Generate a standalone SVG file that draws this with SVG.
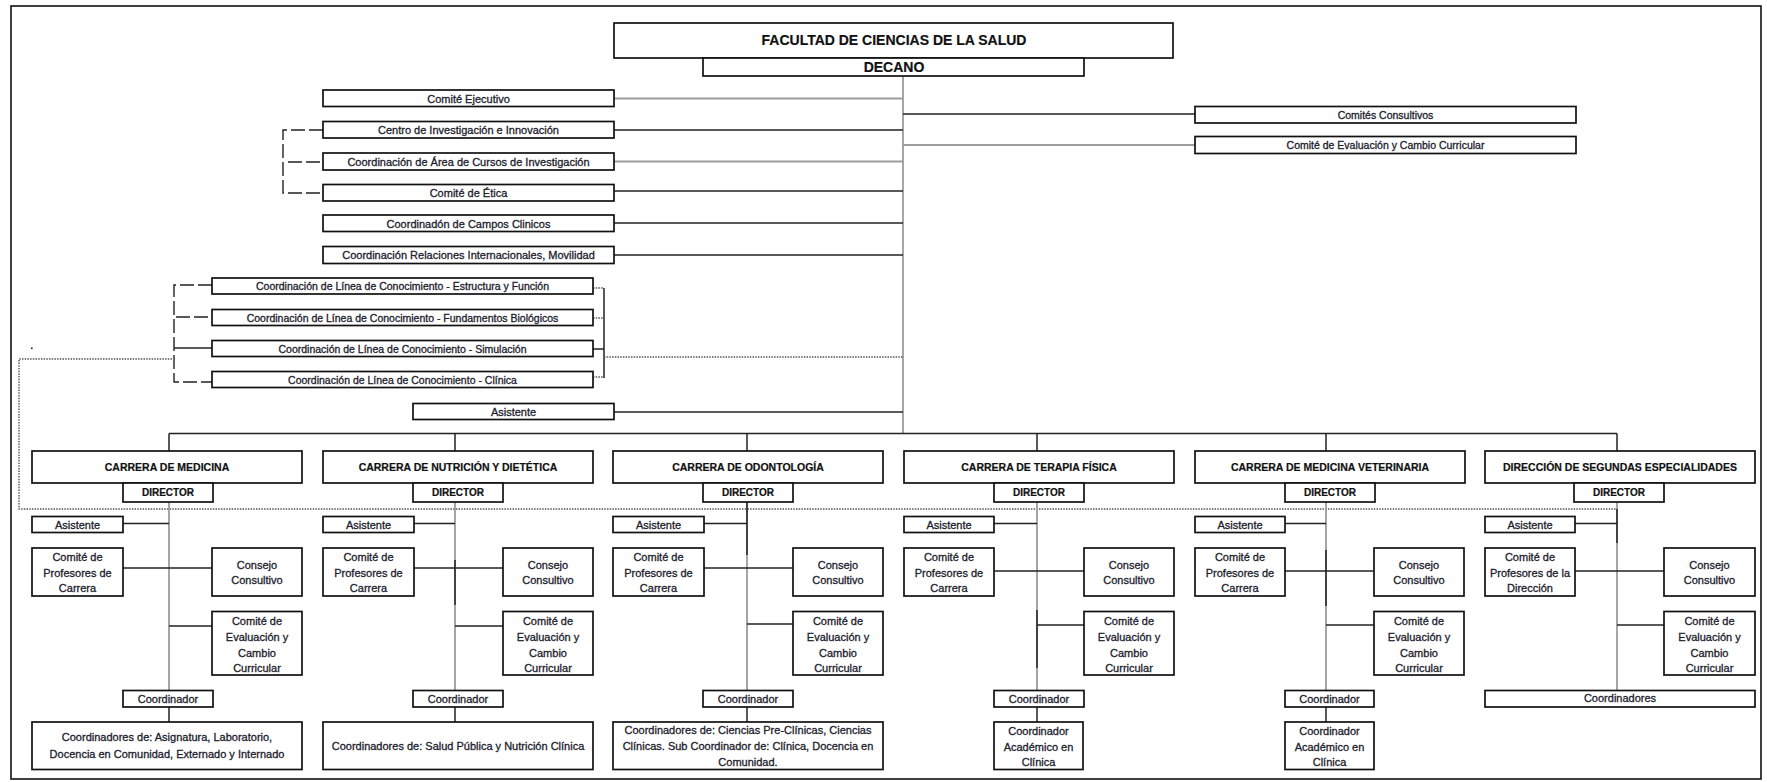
<svg xmlns="http://www.w3.org/2000/svg" width="1767" height="782" viewBox="0 0 1767 782">
<defs>
<style>
.bg{fill:#fff}
.frame{fill:none;stroke:#111;stroke-width:1.6}
.box{fill:#fff;stroke:#111;stroke-width:1.7}
.t{font-family:"Liberation Sans",Arial,sans-serif;font-size:11px;fill:#1c1c2c;stroke:#1c1c2c;stroke-width:0.3;text-anchor:middle;dominant-baseline:central}
.s{font-size:10.5px}
.b{font-weight:bold;fill:#111;stroke:#111;stroke-width:0.2}
.h1{font-size:14px}
.h2{font-size:10.5px}
.h3{font-size:10px}
.k{fill:none;stroke:#222;stroke-width:1.5}
.g{fill:none;stroke:#9c9c9c;stroke-width:1.8}
.dash{fill:none;stroke:#222;stroke-width:1.4;stroke-dasharray:14 4}
.dot{fill:none;stroke:#555;stroke-width:1.4;stroke-dasharray:1.5 1.2}
</style>
</defs>
<rect class="bg" x="0" y="0" width="1767" height="782"/>
<rect class="frame" x="11" y="6" width="1750" height="773"/>
<rect x="31" y="347.5" width="1.6" height="1.6" fill="#222"/>

<g id="connectors">
  <line class="g" x1="903" y1="76" x2="903" y2="434"/>
  <line class="g" x1="614" y1="98.5" x2="903" y2="98.5"/>
  <line class="k" x1="614" y1="130" x2="903" y2="130"/>
  <line class="g" x1="614" y1="161.5" x2="903" y2="161.5"/>
  <line class="k" x1="614" y1="191" x2="903" y2="191"/>
  <line class="k" x1="614" y1="223" x2="903" y2="223"/>
  <line class="k" x1="614" y1="255" x2="903" y2="255"/>
  <line class="k" x1="614" y1="412" x2="903" y2="412"/>
  <line class="k" x1="903" y1="114" x2="1195" y2="114"/>
  <line class="g" x1="903" y1="145" x2="1195" y2="145"/>
  <polyline class="dash" points="323,130 283,130 283,193 323,193"/>
  <line class="dash" x1="288" y1="162" x2="323" y2="162"/>
  <polyline class="dash" points="212,285 174,285 174,382 212,382"/>
  <line class="dash" x1="176" y1="317" x2="212" y2="317"/>
  <line class="k" x1="174" y1="348" x2="212" y2="348"/>
  <line class="k" x1="604" y1="288" x2="604" y2="378"/>
  <line class="dot" x1="593" y1="288" x2="604" y2="288"/>
  <line class="dot" x1="593" y1="318" x2="604" y2="318"/>
  <line class="k" x1="593" y1="349" x2="604" y2="349"/>
  <line class="dot" x1="593" y1="377" x2="604" y2="377"/>
  <line class="dot" x1="604" y1="357" x2="903" y2="357"/>
  <polyline class="dot" points="172,359 19,359 19,509 1617,509"/>
  <line class="k" x1="169" y1="433.5" x2="1617" y2="433.5"/>
  <line class="k" x1="169" y1="433.5" x2="169" y2="451"/>
  <line class="k" x1="455" y1="433.5" x2="455" y2="451"/>
  <line class="k" x1="747" y1="433.5" x2="747" y2="451"/>
  <line class="k" x1="1037" y1="433.5" x2="1037" y2="451"/>
  <line class="k" x1="1326" y1="433.5" x2="1326" y2="451"/>
  <line class="k" x1="1617" y1="433.5" x2="1617" y2="451"/>
  <line class="g" x1="169" y1="502" x2="169" y2="690"/>
  <line class="k" x1="123" y1="523.5" x2="169" y2="523.5"/>
  <line class="k" x1="123" y1="568" x2="212" y2="568"/>
  <line class="k" x1="169" y1="626" x2="212" y2="626"/>
  <line class="k" x1="169" y1="707" x2="169" y2="722"/>
  <line class="g" x1="455" y1="502" x2="455" y2="690"/>
  <line class="k" x1="455" y1="560" x2="455" y2="605"/>
  <line class="k" x1="414" y1="523.5" x2="455" y2="523.5"/>
  <line class="k" x1="414" y1="568" x2="503" y2="568"/>
  <line class="k" x1="455" y1="626" x2="503" y2="626"/>
  <line class="k" x1="455" y1="707" x2="455" y2="722"/>
  <line class="g" x1="747" y1="502" x2="747" y2="690"/>
  <line class="k" x1="747" y1="502" x2="747" y2="555"/>
  <line class="k" x1="704" y1="523.5" x2="747" y2="523.5"/>
  <line class="k" x1="704" y1="568" x2="793" y2="568"/>
  <line class="k" x1="747" y1="624" x2="793" y2="624"/>
  <line class="k" x1="747" y1="707" x2="747" y2="722"/>
  <line class="g" x1="1037" y1="502" x2="1037" y2="690"/>
  <line class="k" x1="1037" y1="610" x2="1037" y2="668"/>
  <line class="k" x1="994" y1="523.5" x2="1037" y2="523.5"/>
  <line class="k" x1="994" y1="571" x2="1084" y2="571"/>
  <line class="k" x1="1037" y1="625" x2="1084" y2="625"/>
  <line class="k" x1="1037" y1="707" x2="1037" y2="722"/>
  <line class="g" x1="1326" y1="502" x2="1326" y2="690"/>
  <line class="k" x1="1326" y1="550" x2="1326" y2="606"/>
  <line class="k" x1="1285" y1="523.5" x2="1326" y2="523.5"/>
  <line class="k" x1="1285" y1="571" x2="1374" y2="571"/>
  <line class="k" x1="1326" y1="625" x2="1374" y2="625"/>
  <line class="k" x1="1326" y1="707" x2="1326" y2="722"/>
  <line class="g" x1="1617" y1="502" x2="1617" y2="690"/>
  <line class="k" x1="1617" y1="509" x2="1617" y2="543"/>
  <line class="k" x1="1575" y1="523.5" x2="1617" y2="523.5"/>
  <line class="k" x1="1575" y1="571" x2="1664" y2="571"/>
  <line class="k" x1="1617" y1="625" x2="1664" y2="625"/>
</g>

<g id="facultad"><rect class="box" x="614" y="23" width="559" height="35"/><text class="t b h1" x="894" y="40">FACULTAD DE CIENCIAS DE LA SALUD</text></g>
<g id="decano"><rect class="box" x="703" y="58" width="381" height="18"/><text class="t b h1" x="894" y="67">DECANO</text></g>

<g id="comite-ejecutivo"><rect class="box" x="323" y="90" width="291" height="16.5"/><text class="t" x="468.5" y="98.5">Comité Ejecutivo</text></g>
<g id="centro-investigacion"><rect class="box" x="323" y="121.5" width="291" height="16.5"/><text class="t" x="468.5" y="130">Centro de Investigación e Innovación</text></g>
<g id="coord-area-cursos"><rect class="box" x="323" y="153" width="291" height="17"/><text class="t" x="468.5" y="161.5">Coordinación de Área de Cursos de Investigación</text></g>
<g id="comite-etica"><rect class="box" x="323" y="184.5" width="291" height="16.5"/><text class="t" x="468.5" y="193">Comité de Ética</text></g>
<g id="coord-campos-clinicos"><rect class="box" x="323" y="215" width="291" height="16.5"/><text class="t" x="468.5" y="223.5">Coordinadón de Campos Clinicos</text></g>
<g id="coord-relaciones"><rect class="box" x="323" y="246.5" width="291" height="17"/><text class="t" x="468.5" y="255">Coordinación Relaciones Internacionales, Movilidad</text></g>

<g id="comites-consultivos"><rect class="box" x="1195" y="106.5" width="381" height="16.5"/><text class="t s" x="1385.5" y="115">Comités Consultivos</text></g>
<g id="comite-evaluacion"><rect class="box" x="1195" y="136.5" width="381" height="17"/><text class="t s" x="1385.5" y="145">Comité de Evaluación y Cambio Curricular</text></g>

<g id="linea-estructura"><rect class="box" x="212" y="278" width="381" height="16"/><text class="t s" x="402.5" y="286">Coordinación de Línea de Conocimiento - Estructura y Función</text></g>
<g id="linea-fundamentos"><rect class="box" x="212" y="309.5" width="381" height="16"/><text class="t s" x="402.5" y="317.5">Coordinación de Línea de Conocimiento - Fundamentos Biológicos</text></g>
<g id="linea-simulacion"><rect class="box" x="212" y="340.5" width="381" height="16"/><text class="t s" x="402.5" y="348.5">Coordinación de Línea de Conocimiento - Simulación</text></g>
<g id="linea-clinica"><rect class="box" x="212" y="371.5" width="381" height="16"/><text class="t s" x="402.5" y="379.5">Coordinación de Línea de Conocimiento - Clínica</text></g>

<g id="asistente-decano"><rect class="box" x="413" y="403.5" width="201" height="16"/><text class="t" x="513.5" y="411.5">Asistente</text></g>

<g id="carrera-medicina"><rect class="box" x="32" y="451" width="270" height="32"/><text class="t b h2" x="167" y="467">CARRERA DE MEDICINA</text></g>
<g id="med-director"><rect class="box" x="123" y="483" width="90" height="19"/><text class="t b h3" x="168" y="492.5">DIRECTOR</text></g>
<g id="med-asistente"><rect class="box" x="32" y="516.5" width="91" height="16"/><text class="t" x="77.5" y="524.5">Asistente</text></g>
<g id="med-comite-prof"><rect class="box" x="32" y="548" width="91" height="48"/><text class="t" x="77.5" y="557">Comité de</text><text class="t" x="77.5" y="572.5">Profesores de</text><text class="t" x="77.5" y="587.5">Carrera</text></g>
<g id="med-consejo"><rect class="box" x="212" y="548" width="90" height="48"/><text class="t" x="257" y="565">Consejo</text><text class="t" x="257" y="580">Consultivo</text></g>
<g id="med-comite-eval"><rect class="box" x="212" y="611.5" width="90" height="63.5"/><text class="t" x="257" y="620.5">Comité de</text><text class="t" x="257" y="636.5">Evaluación y</text><text class="t" x="257" y="652.5">Cambio</text><text class="t" x="257" y="667.5">Curricular</text></g>
<g id="med-coordinador"><rect class="box" x="123" y="690.5" width="90" height="16.5"/><text class="t" x="168" y="699">Coordinador</text></g>
<g id="med-coordinadores"><rect class="box" x="32" y="722" width="270" height="47.5"/><text class="t" x="167" y="737">Coordinadores de: Asignatura, Laboratorio,</text><text class="t" x="167" y="753.5">Docencia en Comunidad, Externado y Internado</text></g>

<g id="carrera-nutricion"><rect class="box" x="323" y="451" width="270" height="32"/><text class="t b h2" x="458" y="467">CARRERA DE NUTRICIÓN Y DIETÉTICA</text></g>
<g id="nut-director"><rect class="box" x="413" y="483" width="90" height="19"/><text class="t b h3" x="458" y="492.5">DIRECTOR</text></g>
<g id="nut-asistente"><rect class="box" x="323" y="516.5" width="91" height="16"/><text class="t" x="368.5" y="524.5">Asistente</text></g>
<g id="nut-comite-prof"><rect class="box" x="323" y="548" width="91" height="48"/><text class="t" x="368.5" y="557">Comité de</text><text class="t" x="368.5" y="572.5">Profesores de</text><text class="t" x="368.5" y="587.5">Carrera</text></g>
<g id="nut-consejo"><rect class="box" x="503" y="548" width="90" height="48"/><text class="t" x="548" y="565">Consejo</text><text class="t" x="548" y="580">Consultivo</text></g>
<g id="nut-comite-eval"><rect class="box" x="503" y="611.5" width="90" height="63.5"/><text class="t" x="548" y="620.5">Comité de</text><text class="t" x="548" y="636.5">Evaluación y</text><text class="t" x="548" y="652.5">Cambio</text><text class="t" x="548" y="667.5">Curricular</text></g>
<g id="nut-coordinador"><rect class="box" x="413" y="690.5" width="90" height="16.5"/><text class="t" x="458" y="699">Coordinador</text></g>
<g id="nut-coordinadores"><rect class="box" x="323" y="722" width="270" height="47.5"/><text class="t" x="458" y="745.5">Coordinadores de: Salud Pública y Nutrición Clínica</text></g>

<g id="carrera-odontologia"><rect class="box" x="613" y="451" width="270" height="32"/><text class="t b h2" x="748" y="467">CARRERA DE ODONTOLOGÍA</text></g>
<g id="odo-director"><rect class="box" x="703" y="483" width="90" height="19"/><text class="t b h3" x="748" y="492.5">DIRECTOR</text></g>
<g id="odo-asistente"><rect class="box" x="613" y="516.5" width="91" height="16"/><text class="t" x="658.5" y="524.5">Asistente</text></g>
<g id="odo-comite-prof"><rect class="box" x="613" y="548" width="91" height="48"/><text class="t" x="658.5" y="557">Comité de</text><text class="t" x="658.5" y="572.5">Profesores de</text><text class="t" x="658.5" y="587.5">Carrera</text></g>
<g id="odo-consejo"><rect class="box" x="793" y="548" width="90" height="48"/><text class="t" x="838" y="565">Consejo</text><text class="t" x="838" y="580">Consultivo</text></g>
<g id="odo-comite-eval"><rect class="box" x="793" y="611.5" width="90" height="63.5"/><text class="t" x="838" y="620.5">Comité de</text><text class="t" x="838" y="636.5">Evaluación y</text><text class="t" x="838" y="652.5">Cambio</text><text class="t" x="838" y="667.5">Curricular</text></g>
<g id="odo-coordinador"><rect class="box" x="703" y="690.5" width="90" height="16.5"/><text class="t" x="748" y="699">Coordinador</text></g>
<g id="odo-coordinadores"><rect class="box" x="613" y="722" width="270" height="47.5"/><text class="t" x="748" y="729.5">Coordinadores de: Ciencias Pre-Clínicas, Ciencias</text><text class="t" x="748" y="745.5">Clínicas. Sub Coordinador de: Clínica, Docencia en</text><text class="t" x="748" y="762">Comunidad.</text></g>

<g id="carrera-terapia"><rect class="box" x="904" y="451" width="270" height="32"/><text class="t b h2" x="1039" y="467">CARRERA DE TERAPIA FÍSICA</text></g>
<g id="tf-director"><rect class="box" x="994" y="483" width="90" height="19"/><text class="t b h3" x="1039" y="492.5">DIRECTOR</text></g>
<g id="tf-asistente"><rect class="box" x="904" y="516.5" width="90" height="16"/><text class="t" x="949" y="524.5">Asistente</text></g>
<g id="tf-comite-prof"><rect class="box" x="904" y="548" width="90" height="48"/><text class="t" x="949" y="557">Comité de</text><text class="t" x="949" y="572.5">Profesores de</text><text class="t" x="949" y="587.5">Carrera</text></g>
<g id="tf-consejo"><rect class="box" x="1084" y="548" width="90" height="48"/><text class="t" x="1129" y="565">Consejo</text><text class="t" x="1129" y="580">Consultivo</text></g>
<g id="tf-comite-eval"><rect class="box" x="1084" y="611.5" width="90" height="63.5"/><text class="t" x="1129" y="620.5">Comité de</text><text class="t" x="1129" y="636.5">Evaluación y</text><text class="t" x="1129" y="652.5">Cambio</text><text class="t" x="1129" y="667.5">Curricular</text></g>
<g id="tf-coordinador"><rect class="box" x="994" y="690.5" width="90" height="16.5"/><text class="t" x="1039" y="699">Coordinador</text></g>
<g id="tf-coord-academico"><rect class="box" x="994" y="722" width="89" height="47.5"/><text class="t" x="1038.5" y="731">Coordinador</text><text class="t" x="1038.5" y="747">Académico en</text><text class="t" x="1038.5" y="762">Clínica</text></g>

<g id="carrera-veterinaria"><rect class="box" x="1195" y="451" width="270" height="32"/><text class="t b h2" x="1330" y="467">CARRERA DE MEDICINA VETERINARIA</text></g>
<g id="vet-director"><rect class="box" x="1285" y="483" width="90" height="19"/><text class="t b h3" x="1330" y="492.5">DIRECTOR</text></g>
<g id="vet-asistente"><rect class="box" x="1195" y="516.5" width="90" height="16"/><text class="t" x="1240" y="524.5">Asistente</text></g>
<g id="vet-comite-prof"><rect class="box" x="1195" y="548" width="90" height="48"/><text class="t" x="1240" y="557">Comité de</text><text class="t" x="1240" y="572.5">Profesores de</text><text class="t" x="1240" y="587.5">Carrera</text></g>
<g id="vet-consejo"><rect class="box" x="1374" y="548" width="90" height="48"/><text class="t" x="1419" y="565">Consejo</text><text class="t" x="1419" y="580">Consultivo</text></g>
<g id="vet-comite-eval"><rect class="box" x="1374" y="611.5" width="90" height="63.5"/><text class="t" x="1419" y="620.5">Comité de</text><text class="t" x="1419" y="636.5">Evaluación y</text><text class="t" x="1419" y="652.5">Cambio</text><text class="t" x="1419" y="667.5">Curricular</text></g>
<g id="vet-coordinador"><rect class="box" x="1285" y="690.5" width="89" height="16.5"/><text class="t" x="1329.5" y="699">Coordinador</text></g>
<g id="vet-coord-academico"><rect class="box" x="1285" y="722" width="89" height="47.5"/><text class="t" x="1329.5" y="731">Coordinador</text><text class="t" x="1329.5" y="747">Académico en</text><text class="t" x="1329.5" y="762">Clínica</text></g>

<g id="direccion-segundas"><rect class="box" x="1485" y="451" width="270" height="32"/><text class="t b h2" x="1620" y="467">DIRECCIÓN DE SEGUNDAS ESPECIALIDADES</text></g>
<g id="dse-director"><rect class="box" x="1574" y="483" width="90" height="19"/><text class="t b h3" x="1619" y="492.5">DIRECTOR</text></g>
<g id="dse-asistente"><rect class="box" x="1485" y="516.5" width="90" height="16"/><text class="t" x="1530" y="524.5">Asistente</text></g>
<g id="dse-comite-prof"><rect class="box" x="1485" y="548" width="90" height="48"/><text class="t" x="1530" y="557">Comité de</text><text class="t" x="1530" y="572.5">Profesores de la</text><text class="t" x="1530" y="587.5">Dirección</text></g>
<g id="dse-consejo"><rect class="box" x="1664" y="548" width="91" height="48"/><text class="t" x="1709.5" y="565">Consejo</text><text class="t" x="1709.5" y="580">Consultivo</text></g>
<g id="dse-comite-eval"><rect class="box" x="1664" y="611.5" width="91" height="63.5"/><text class="t" x="1709.5" y="620.5">Comité de</text><text class="t" x="1709.5" y="636.5">Evaluación y</text><text class="t" x="1709.5" y="652.5">Cambio</text><text class="t" x="1709.5" y="667.5">Curricular</text></g>
<g id="dse-coordinadores"><rect class="box" x="1485" y="690.5" width="270" height="16.5"/><text class="t" x="1620" y="698">Coordinadores</text></g>
</svg>
